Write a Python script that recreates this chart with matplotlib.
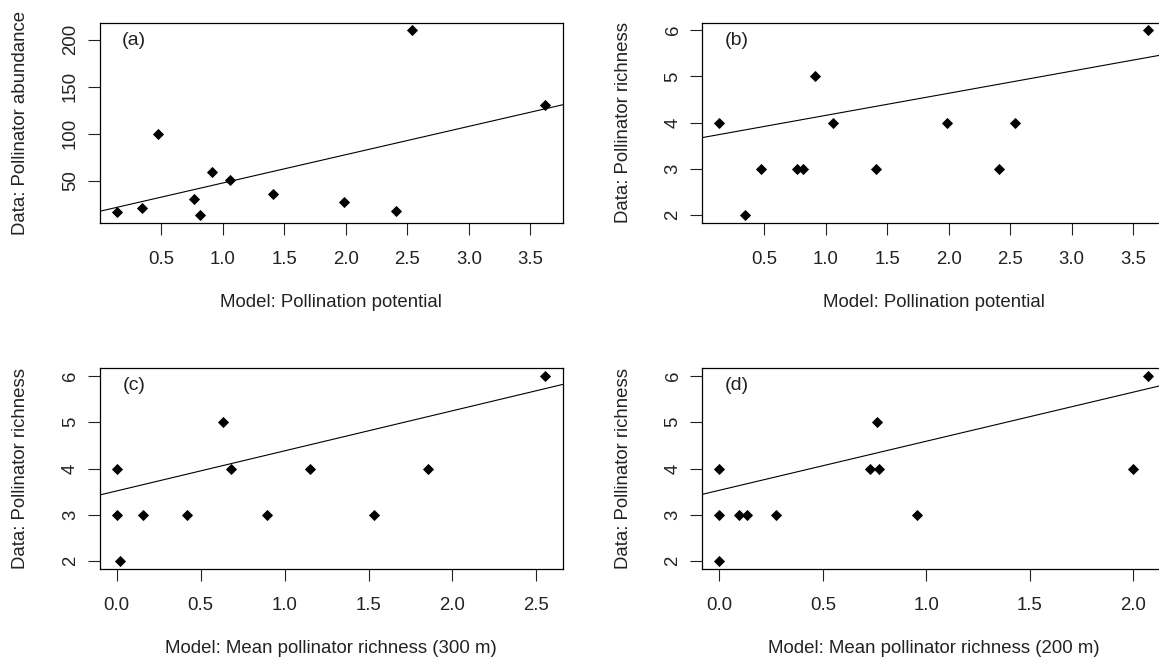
import matplotlib
matplotlib.use('Agg')
import matplotlib.pyplot as plt
import numpy as np

plt.rcParams['font.family'] = ['Liberation Sans', 'DejaVu Sans']

# pollination potential per site (panels a and b share it)
potential = [0.136, 0.34, 0.475, 0.768, 0.812, 0.914, 1.058, 1.407, 1.988, 2.408, 2.538, 3.622]
abundance = [17, 21, 99, 30, 13, 59, 51, 36, 27, 18, 210, 130]
richness_b = [4, 2, 3, 3, 3, 5, 4, 3, 4, 3, 4, 6]

# mean modelled richness, 300 m buffer
mean300 = [0.0, 0.0, 0.02, 0.154, 0.419, 0.631, 0.683, 0.893, 1.151, 1.532, 1.856, 2.553]
richness_c = [4, 3, 2, 3, 3, 5, 4, 3, 4, 3, 4, 6]

# mean modelled richness, 200 m buffer
mean200 = [0.0, 0.0, 0.0, 0.095, 0.134, 0.272, 0.727, 0.760, 0.770, 0.954, 2.0, 2.073]
richness_d = [4, 3, 2, 3, 3, 3, 4, 5, 4, 3, 4, 6]

# fitted lines (intercept, slope)
fits = {'a': (17.3, 30.1), 'b': (3.68, 0.478), 'c': (3.516, 0.8645), 'd': (3.531, 1.057)}

panels = [
    ('a', potential, abundance, 'Model: Pollination potential', 'Data: Pollinator abundance',
     np.arange(0.5, 3.6, 0.5), [50, 100, 150, 200]),
    ('b', potential, richness_b, 'Model: Pollination potential', 'Data: Pollinator richness',
     np.arange(0.5, 3.6, 0.5), [2, 3, 4, 5, 6]),
    ('c', mean300, richness_c, 'Model: Mean pollinator richness (300 m)', 'Data: Pollinator richness',
     np.arange(0.0, 2.6, 0.5), [2, 3, 4, 5, 6]),
    ('d', mean200, richness_d, 'Model: Mean pollinator richness (200 m)', 'Data: Pollinator richness',
     np.arange(0.0, 2.1, 0.5), [2, 3, 4, 5, 6]),
]

W, H = 1159, 661
# axes boxes in pixels: left, top, width, height (right column runs past the edge)
boxes = {'a': (99.5, 22.7, 463, 200), 'b': (702.3, 22.7, 463, 200),
         'c': (99.5, 368.3, 463, 200.4), 'd': (702.3, 368.3, 463, 200.4)}

fig = plt.figure(figsize=(W / 100, H / 100), dpi=100)

for tag, x, y, xlab, ylab, xt, yt in panels:
    l, t, w, h = boxes[tag]
    ax = fig.add_axes([l / W, 1 - (t + h) / H, w / W, h / H])
    x = np.array(x, dtype=float)
    y = np.array(y, dtype=float)
    ax.plot(x, y, 'D', color='black', markersize=4.6, markeredgewidth=0.6)
    b0, b1 = fits[tag]
    ax.axline((0, b0), slope=b1, color='black', linewidth=0.8)

    # R style 4% padding
    dx = (x.max() - x.min()) * 0.04
    dy = (y.max() - y.min()) * 0.04
    ax.set_xlim(x.min() - dx, x.max() + dx)
    ax.set_ylim(y.min() - dy, y.max() + dy)

    ax.set_xticks(xt)
    ax.set_xticklabels(['%.1f' % v for v in xt])
    ax.set_yticks(yt)
    ax.set_yticklabels([str(v) for v in yt])
    ax.tick_params(axis='x', length=8.6, width=0.8, pad=11.5, labelsize=13.4, colors='#222222')
    ax.tick_params(axis='y', length=8.6, width=0.8, pad=6.3, labelsize=13.4, colors='#222222',
                   labelrotation=90)
    for lb in ax.get_yticklabels():
        lb.set_va('center')
    for s in ax.spines.values():
        s.set_linewidth(0.9)

    ax.set_xlabel(xlab, fontsize=13.4, color='#222222')
    ax.xaxis.label.set_va('center')
    ax.xaxis.set_label_coords(0.5, -0.40)
    ax.set_ylabel(ylab, fontsize=13.4, color='#222222')
    ax.yaxis.label.set_va('center')
    ax.yaxis.set_label_coords(-79 / w, 0.5)

    ax.text(0.075, 0.913, '(%s)' % tag, transform=ax.transAxes, ha='center', va='center',
            fontsize=14, color='#222222')

fig.savefig('out.png', dpi=100)
